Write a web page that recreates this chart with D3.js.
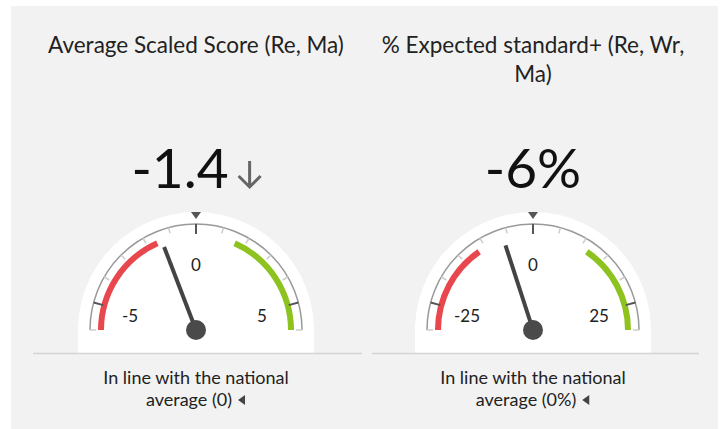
<html>
<meta charset="utf-8" />
<head>
<title>Gauges</title>
<script src="https://cdn.jsdelivr.net/npm/d3@7"></script>
<style>
	body { margin: 0; background: #fff; }
	text { font-family: Lato, "Open Sans", sans-serif; }
</style>
<script>

// data
let titleLines = [["Average Scaled Score (Re, Ma)"], ["% Expected standard+ (Re, Wr,", "Ma)"]];
let values = [-1.4, -6];
let valueLabels = ["-1.4", "-6%"];
let trends = ["down", null];
let scaleMin = [-6, -30];
let scaleMax = [6, 30];
let minorStep = [1, 5];
let majorTicks = [[-5, 0, 5], [-25, 0, 25]];
let lowBand = [-1.6, -11.5];
let highBand = [1.6, 11.5];
let captionLine1 = ["In line with the national", "In line with the national"];
let captionLine2 = ["average (0)", "average (0%)"];

window.onload = function() {
	let svg = d3.select('svg');

	svg.append('rect')
		.attr('x', 11).attr('y', 6)
		.attr('width', 707).attr('height', 423)
		.style('fill', '#f2f2f2');

	let centers = [196, 533];
	let cy = 330;

	values.forEach(function(v, i) {
		let cx = centers[i];
		let g = svg.append('g');

		// title
		g.selectAll('text.title')
			.data(titleLines[i])
			.enter()
			.append('text')
			.attr('x', cx)
			.attr('y', function(d, j) { return 53 + j * 29; })
			.attr('text-anchor', 'middle')
			.style('font-size', '22.5px')
			.style('fill', '#222')
			.text(function(d) { return d; });

		// big value (+ trend arrow)
		let big = g.append('text')
			.attr('y', 188)
			.style('font-size', '55px')
			.style('fill', '#111')
			.text(valueLabels[i]);
		let w = big.node().getComputedTextLength();
		let arrowW = trends[i] ? 32 : 0;
		let x0 = cx - (w + arrowW) / 2;
		big.attr('x', x0);
		if (trends[i] == 'down') {
			let ax = x0 + w + 21;
			g.append('path')
				.attr('d', 'M' + ax + ',161 L' + ax + ',187 M' + (ax - 11) + ',176 L' + ax + ',187 L' + (ax + 11) + ',176')
				.style('fill', 'none')
				.style('stroke', '#666')
				.style('stroke-width', 3);
		}

		// gauge
		let gauge = g.append('g').attr('transform', 'translate(' + cx + ',' + cy + ')');
		let angle = d3.scaleLinear().domain([scaleMin[i], scaleMax[i]]).range([-Math.PI / 2, Math.PI / 2]);

		gauge.append('path')
			.attr('d', d3.arc()({innerRadius: 0, outerRadius: 118, startAngle: -Math.PI * 0.56, endAngle: Math.PI * 0.56}))
			.style('fill', '#fff');
		gauge.append('rect')
			.attr('x', -118).attr('y', 0).attr('width', 236).attr('height', 23)
			.style('fill', '#fff');

		// bands
		let band = d3.arc().innerRadius(92).outerRadius(98);
		gauge.append('path')
			.attr('d', band({startAngle: angle(scaleMin[i]), endAngle: angle(lowBand[i])}))
			.style('fill', '#e8484d');
		gauge.append('path')
			.attr('d', band({startAngle: angle(highBand[i]), endAngle: angle(scaleMax[i])}))
			.style('fill', '#8dc21f');

		// scale arc
		gauge.append('path')
			.attr('d', d3.arc()({innerRadius: 106, outerRadius: 106, startAngle: angle(scaleMin[i]), endAngle: angle(scaleMax[i])}))
			.style('fill', 'none')
			.style('stroke', '#999')
			.style('stroke-width', 1.5);

		// ticks
		let minor = d3.range(scaleMin[i], scaleMax[i] + minorStep[i] / 2, minorStep[i])
			.filter(function(d) { return majorTicks[i].indexOf(d) < 0; });
		function tickLine(sel, r0, r1) {
			sel.attr('x1', function(d) { return r0 * Math.sin(angle(d)); })
				.attr('y1', function(d) { return -r0 * Math.cos(angle(d)); })
				.attr('x2', function(d) { return r1 * Math.sin(angle(d)); })
				.attr('y2', function(d) { return -r1 * Math.cos(angle(d)); });
		}
		gauge.selectAll('line.minor')
			.data(minor)
			.enter()
			.append('line')
			.call(tickLine, 100, 106)
			.style('stroke', '#ccc')
			.style('stroke-width', 1.5);
		gauge.selectAll('line.major')
			.data(majorTicks[i])
			.enter()
			.append('line')
			.call(tickLine, 96, 106)
			.style('stroke', '#555')
			.style('stroke-width', 2);

		gauge.selectAll('text.tick')
			.data(majorTicks[i])
			.enter()
			.append('text')
			.attr('x', function(d) { return 67 * Math.sin(angle(d)) * (d == 0 ? 1 : 1.02); })
			.attr('y', function(d) { return -65 * Math.cos(angle(d)) + 6 + (d == 0 ? 0 : 3); })
			.attr('text-anchor', 'middle')
			.style('font-size', '17px')
			.style('fill', '#222')
			.text(function(d) { return d; });

		// top marker
		gauge.append('path')
			.attr('d', 'M-5,-118 L5,-118 L0,-111 Z')
			.style('fill', '#555');

		// needle
		let a = angle(v);
		gauge.append('line')
			.attr('x1', 0).attr('y1', 0)
			.attr('x2', 89 * Math.sin(a))
			.attr('y2', -89 * Math.cos(a))
			.style('stroke', '#444')
			.style('stroke-width', 4);
		gauge.append('circle')
			.attr('r', 10)
			.style('fill', '#4a4a4a');

		// separator
		g.append('line')
			.attr('x1', i == 0 ? 33 : 372).attr('x2', i == 0 ? 362 : 699)
			.attr('y1', 353.5).attr('y2', 353.5)
			.style('stroke', '#d4d4d4')
			.style('stroke-width', 1.5);

		// caption
		g.append('text')
			.attr('x', cx).attr('y', 384)
			.attr('text-anchor', 'middle')
			.style('font-size', '18px')
			.style('fill', '#222')
			.text(captionLine1[i]);
		let cap = g.append('text')
			.attr('y', 406)
			.style('font-size', '18px')
			.style('fill', '#222')
			.text(captionLine2[i]);
		let cw = cap.node().getComputedTextLength();
		let cx0 = cx - (cw + 14) / 2;
		cap.attr('x', cx0);
		let tx = cx0 + cw + 6;
		g.append('path')
			.attr('d', 'M' + (tx + 7) + ',395 L' + (tx + 7) + ',405 L' + tx + ',400 Z')
			.style('fill', '#444');
	});
}

</script>
</head>
<body>
	<svg width="726" height="429"></svg>
</body>
</html>
